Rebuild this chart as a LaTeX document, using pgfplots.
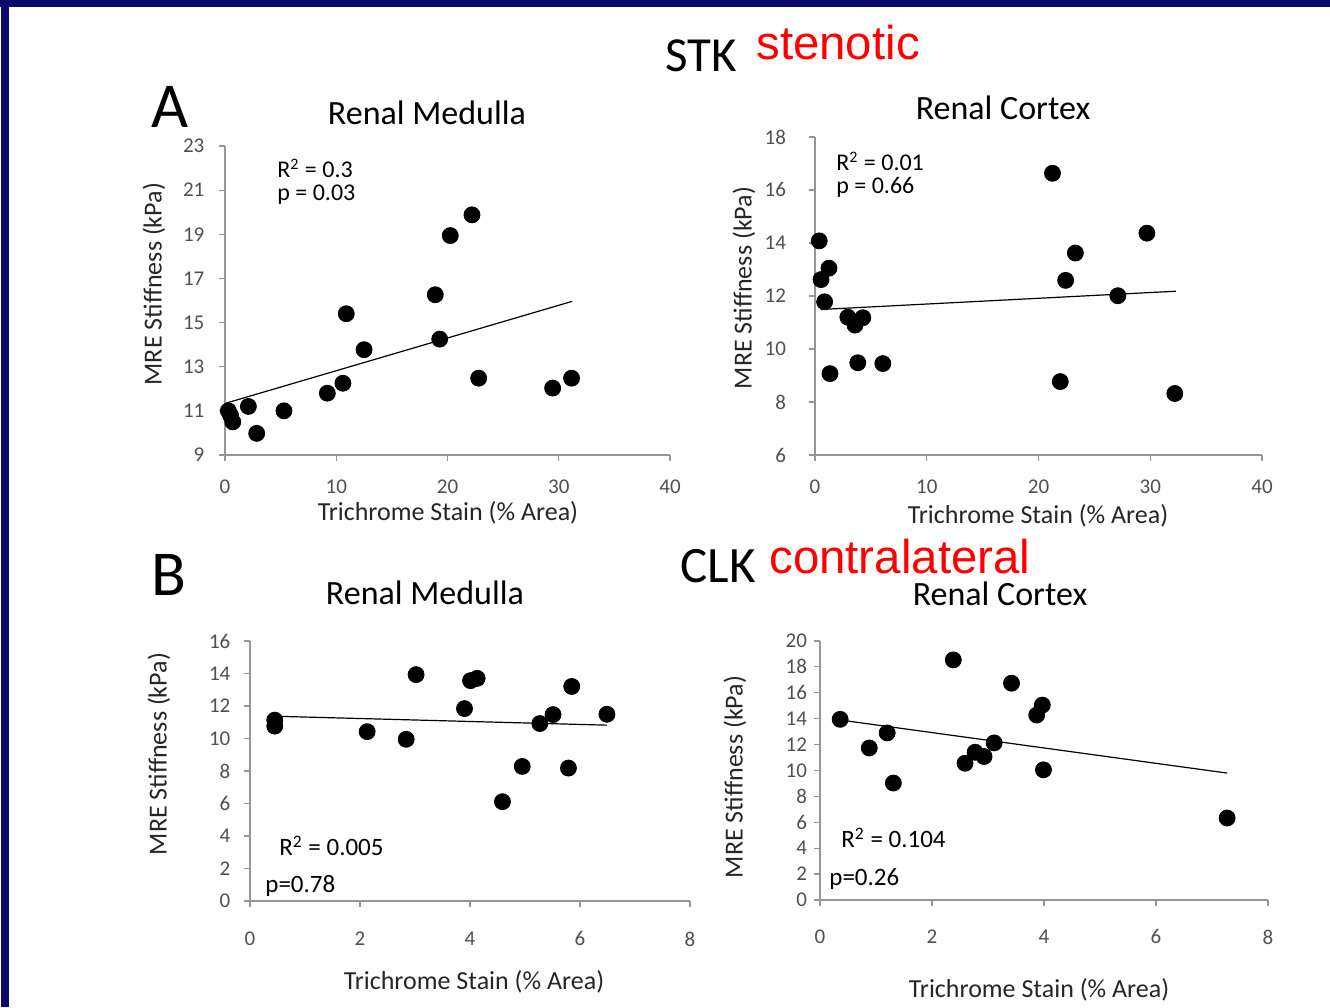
\documentclass[border=0pt]{standalone}
\usepackage{fontspec}
\setmainfont{Carlito}
\newfontfamily\arialfont{Liberation Sans}
\usepackage{pgfplots}
\pgfplotsset{compat=1.18}
\definecolor{navy}{RGB}{10,10,110}
\definecolor{axgray}{RGB}{150,150,150}
\definecolor{tickgray}{RGB}{80,80,80}

\pgfplotsset{
 mrestyle/.style={
  scale only axis,
  anchor=south west,
  axis x line*=bottom, axis y line*=left,
  axis line style={axgray, line width=0.75pt},
  tick style={axgray, line width=0.6pt},
  major tick length=3pt,
  tick align=outside,
  ticklabel style={font=\fontsize{10.5}{11}\selectfont, text=tickgray},
  /pgf/number format/assume math mode=true,
  label style={font=\fontsize{13}{14}\selectfont, text=black!85},
  xlabel={Trichrome Stain (\% Area)},
  ylabel={MRE Stiffness (kPa)},
  clip=false,
 },
 dots/.style={only marks, mark=*, mark size=4pt, black},
 fit/.style={no marks, black, line width=0.6pt},
}

\pgfplotstableread{
x y
0.3 11.0
0.5 10.8
0.7 10.5
2.1 11.2
2.85 9.98
5.3 11.0
9.2 11.8
10.6 12.25
10.9 15.4
12.5 13.77
18.9 16.26
19.3 14.25
20.25 18.94
22.2 19.88
22.8 12.48
29.45 12.03
31.15 12.48
}\medA

\pgfplotstableread{
x y
0.38 14.08
0.54 12.62
1.25 13.05
0.86 11.78
1.34 9.07
2.94 11.2
3.58 10.9
4.28 11.18
3.83 9.48
6.07 9.45
21.25 16.63
22.43 12.59
23.3 13.62
21.95 8.77
27.1 12.01
29.7 14.37
32.2 8.32
}\corA

\pgfplotstableread{
x y
0.45 11.13
0.45 10.76
2.13 10.42
2.84 9.95
3.02 13.93
3.9 11.84
4.01 13.56
4.13 13.7
4.59 6.11
4.95 8.28
5.27 10.92
5.51 11.47
5.79 8.18
5.85 13.2
6.49 11.49
}\medB

\pgfplotstableread{
x y
0.36 13.95
0.88 11.74
1.2 12.9
1.31 9.03
2.38 18.54
2.59 10.56
2.77 11.41
2.93 11.08
3.11 12.13
3.42 16.74
3.87 14.28
3.97 15.05
3.99 10.05
7.27 6.33
}\corB

\begin{document}
\begin{tikzpicture}[x=0.5pt,y=0.5pt]
% page and frame
\fill[white] (0,0) rectangle (1330,1007);
\fill[navy] (0,1000) rectangle (1330,1007);
\fill[navy] (1,0) rectangle (9,1007);

% headings
\node[anchor=base west, inner sep=0, font=\fontsize{24.5}{26}\selectfont] at (665,935) {STK};
\node[anchor=base west, inner sep=0, font=\arialfont\fontsize{23.7}{25}\selectfont, text=red] at (756,947) {stenotic};
\node[anchor=base west, inner sep=0, font=\fontsize{32}{34}\selectfont] at (151,879) {A};
\node[anchor=base west, inner sep=0, font=\fontsize{32}{34}\selectfont] at (151,411) {B};
\node[anchor=base west, inner sep=0, font=\fontsize{25.5}{27}\selectfont] at (680,424) {CLK};
\node[anchor=base west, inner sep=0, font=\arialfont\fontsize{23.7}{25}\selectfont, text=red] at (769,433) {contralateral};
% panel titles
\node[anchor=base, inner sep=0, font=\fontsize{17}{19}\selectfont] at (427,882) {Renal Medulla};
\node[anchor=base, inner sep=0, font=\fontsize{17}{19}\selectfont] at (1003,887) {Renal Cortex};
\node[anchor=base, inner sep=0, font=\fontsize{17}{19}\selectfont] at (425,402) {Renal Medulla};
\node[anchor=base, inner sep=0, font=\fontsize{17}{19}\selectfont] at (1000,401) {Renal Cortex};

% statistics
\node[anchor=base west, inner sep=0, font=\fontsize{12}{13}\selectfont] at (277,829) {R\textsuperscript{2} = 0.3};
\node[anchor=base west, inner sep=0, font=\fontsize{12}{13}\selectfont] at (277,806) {p = 0.03};
\node[anchor=base west, inner sep=0, font=\fontsize{12}{13}\selectfont] at (836,836) {R\textsuperscript{2} = 0.01};
\node[anchor=base west, inner sep=0, font=\fontsize{12}{13}\selectfont] at (836,813) {p = 0.66};
\node[anchor=base west, inner sep=0, font=\fontsize{12.5}{13}\selectfont] at (279,151) {R\textsuperscript{2} = 0.005};
\node[anchor=base west, inner sep=0, font=\fontsize{12.5}{13}\selectfont] at (265,114) {p=0.78};
\node[anchor=base west, inner sep=0, font=\fontsize{12.5}{13}\selectfont] at (841,159) {R\textsuperscript{2} = 0.104};
\node[anchor=base west, inner sep=0, font=\fontsize{12.5}{13}\selectfont] at (829,121) {p=0.26};

% Panel A: Renal Medulla (stenotic)
\begin{axis}[mrestyle, at={(112.5pt,276pt)}, width=222.5pt, height=154.5pt,
  xmin=0, xmax=40, ymin=9, ymax=23,
  xtick={0,10,20,30,40}, ytick={9,11,13,15,17,19,21,23},
  xticklabel style={yshift=-8.3pt, inner sep=1pt}, yticklabel style={xshift=-3.8pt},
  xlabel style={at={(axis description cs:0.501,-0.188)}, anchor=center, inner sep=1pt},
  ylabel style={at={(axis description cs:-0.160,0.553)}, anchor=center}]
\addplot[dots] table[x=x,y=y] {\medA};
\addplot[fit] coordinates {(0.1,11.35) (31.2,15.96)};
\end{axis}

% Panel A: Renal Cortex (stenotic)
\begin{axis}[mrestyle, at={(407.5pt,276pt)}, width=223.5pt, height=159pt,
  xmin=0, xmax=40, ymin=6, ymax=18,
  xtick={0,10,20,30,40}, ytick={6,8,10,12,14,16,18},
  xticklabel style={yshift=-8.3pt, inner sep=1pt}, yticklabel style={xshift=-8pt},
  xlabel style={at={(axis description cs:0.499,-0.190)}, anchor=center, inner sep=1pt},
  ylabel style={at={(axis description cs:-0.159,0.525)}, anchor=center}]
\addplot[dots] table[x=x,y=y] {\corA};
\addplot[fit] coordinates {(0.5,11.49) (32.3,12.18)};
\end{axis}

% Panel B: Renal Medulla (contralateral)
\begin{axis}[mrestyle, at={(125pt,53pt)}, width=220pt, height=130pt,
  xmin=0, xmax=8, ymin=0, ymax=16,
  xtick={0,2,4,6,8}, ytick={0,2,...,16},
  xticklabel style={yshift=-8.8pt}, yticklabel style={xshift=-3.3pt},
  xlabel style={at={(axis description cs:0.509,-0.312)}, anchor=center},
  ylabel style={at={(axis description cs:-0.207,0.565)}, anchor=center}]
\addplot[dots] table[x=x,y=y] {\medB};
\addplot[fit] coordinates {(0.45,11.37) (6.49,10.82)};
\end{axis}

% Panel B: Renal Cortex (contralateral)
\begin{axis}[mrestyle, at={(410pt,53.5pt)}, width=224pt, height=129.5pt,
  xmin=0, xmax=8, ymin=0, ymax=20,
  xtick={0,2,4,6,8}, ytick={0,2,...,20},
  xticklabel style={yshift=-8.3pt}, yticklabel style={xshift=0pt},
  xlabel style={at={(axis description cs:0.489,-0.347)}, anchor=center},
  ylabel style={at={(axis description cs:-0.190,0.475)}, anchor=center}]
\addplot[dots] table[x=x,y=y] {\corB};
\addplot[fit] coordinates {(0.36,13.9) (7.27,9.8)};
\end{axis}
\end{tikzpicture}
\end{document}
